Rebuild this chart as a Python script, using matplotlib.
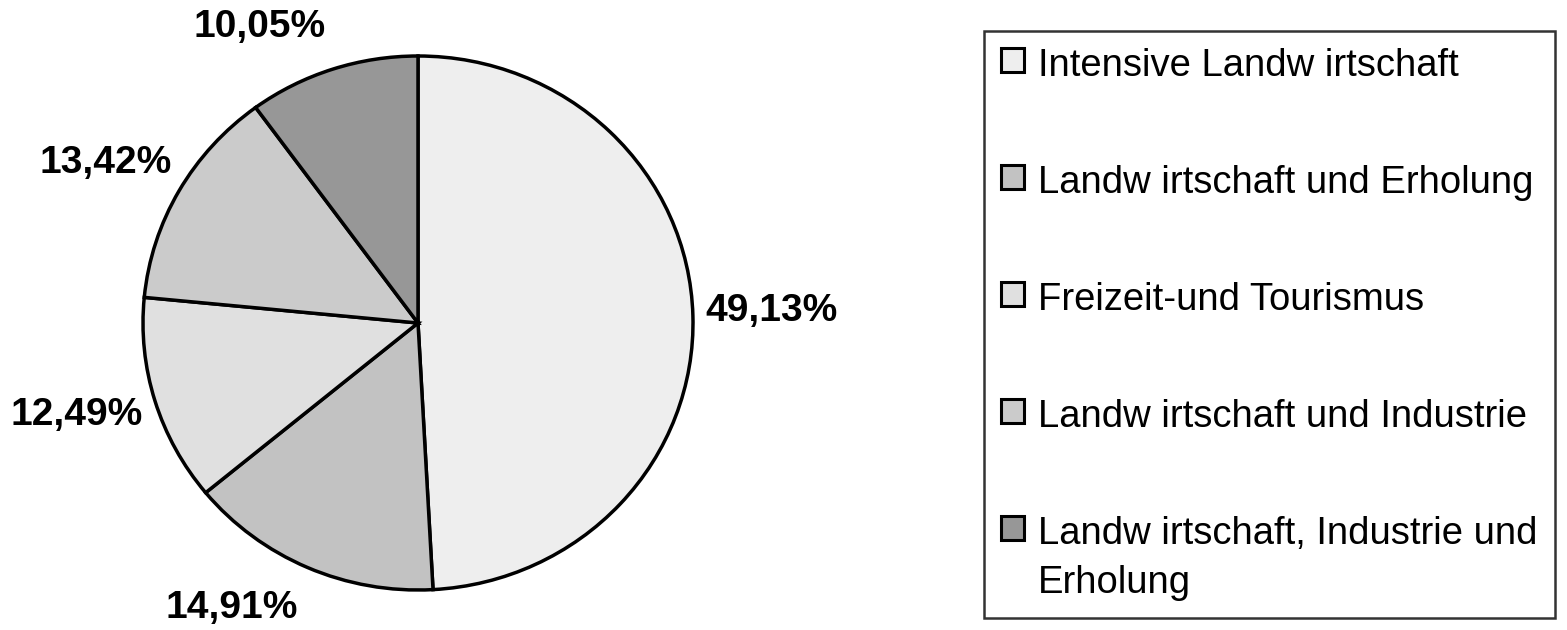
import numpy as np
import matplotlib
matplotlib.use('Agg')
from matplotlib import pyplot as plt

plt.rcParams['font.family'] = ['Liberation Sans', 'DejaVu Sans']

# Data (clockwise from 12 o'clock).
CATEGORIES = ['Intensive Landw irtschaft',
              'Landw irtschaft und Erholung',
              'Freizeit-und Tourismus',
              'Landw irtschaft und Industrie',
              'Landw irtschaft, Industrie und\nErholung']
SHARES = [49.13, 14.91, 12.49, 13.42, 10.05]
PCT_LABELS = ['49,13%', '14,91%', '12,49%', '13,42%', '10,05%']

# Styling.
FILL_COLORS = ['#eeeeee', '#c2c2c2', '#e0e0e0', '#cbcbcb', '#979797']
LABEL_ANGLE_SHIFT = [0.4, -8.7, -1.5, 1.9, 9.3]    # deg, relative to mid-angle
LABEL_DIST = [1.288, 1.263, 1.287, 1.283, 1.249]   # in pie radii

W, H = 1567, 630
CX, CY = 418, 323       # pie centre, pixels from top-left
RX, RY = 275, 267       # pixel radius horizontally / vertically

FIG = plt.figure(figsize=(W / 100, H / 100), dpi=100)
AX = FIG.add_axes([0, 0, 1, 1])

wedges, _ = AX.pie(SHARES, colors=FILL_COLORS, startangle=90,
                   counterclock=False, radius=1.0,
                   wedgeprops=dict(edgecolor='black', linewidth=2.5))

# Let the pie be slightly oval like the reference.
AX.set_aspect('auto')
AX.set_xlim(-CX / RX, (W - CX) / RX)
AX.set_ylim(-(H - CY) / RY, CY / RY)
AX.axis('off')

# Percentage labels.
for w, lab, shift, dist in zip(wedges, PCT_LABELS, LABEL_ANGLE_SHIFT, LABEL_DIST):
    mid = np.radians((w.theta1 + w.theta2) / 2 + shift)
    AX.text(dist * np.cos(mid), dist * np.sin(mid), lab,
            ha='center', va='center', fontsize=28, fontweight='bold')

# Legend.
LEG = FIG.legend(wedges, CATEGORIES, loc='upper left',
                 bbox_to_anchor=(984 / W, 1 - 31 / H),
                 fontsize=27.5, frameon=True, fancybox=False,
                 handlelength=0.6, handleheight=0.6, handletextpad=0.36,
                 labelspacing=2.12, borderpad=0.45, borderaxespad=0)
LEG.get_frame().set_edgecolor('black')
LEG.get_frame().set_linewidth(1.8)
for h in LEG.legend_handles:
    h.set_linewidth(2.2)
for t in LEG.get_texts():
    t.set_linespacing(1.45)

# Multi-line entry: put the marker next to the first line.
for col in LEG._legend_handle_box.get_children():
    for row in col.get_children():
        row.align = 'top'

plt.savefig('out.png', dpi=100)
